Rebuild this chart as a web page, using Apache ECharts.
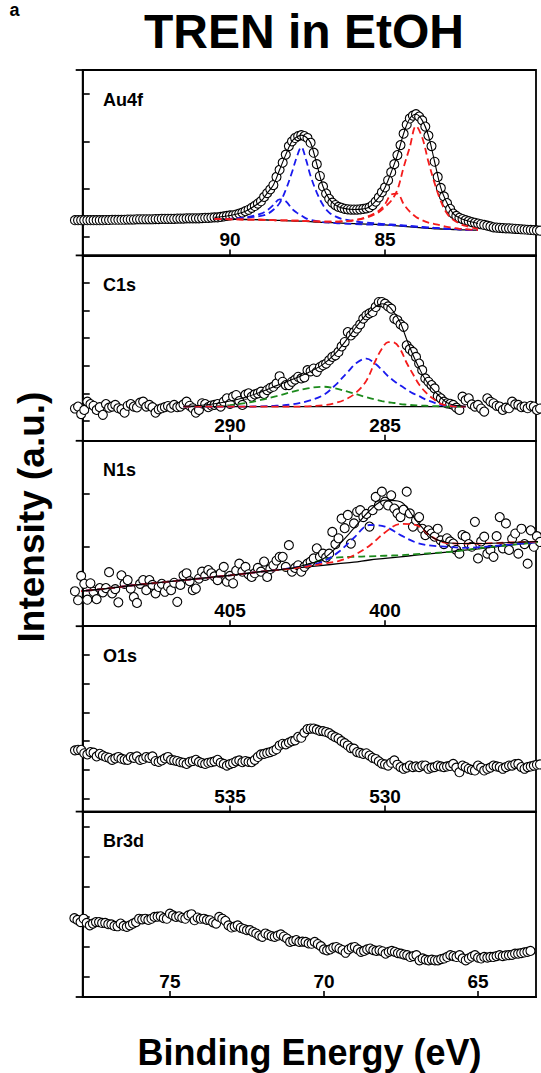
<!DOCTYPE html>
<html><head><meta charset="utf-8">
<script src="https://cdn.jsdelivr.net/npm/echarts@6/dist/echarts.min.js"></script>
<style>html,body{margin:0;padding:0;background:#fff}#c{width:541px;height:1073px}</style>
</head><body><div id="c"></div>
<script>
// ---------- panel layout / axes ----------
const panelNames = ['Au4f','C1s','N1s','O1s','Br3d'];
const xMin = [80.13, 280.13, 395.13, 525.13, 63.12];
const xMax = [94.75, 294.75, 409.75, 539.75, 77.83];
const xTickValues = [[90,85],[290,285],[405,400],[535,530],[75,70,65]];
const yMin = [-0.4, -0.72, -0.5, -0.45, -0.66];
const yMax = [3.5, 6.0, 3.0, 6.0, 5.5];
const yTickValues = [[0,1,2,3],[0,1,2,3,4,5],[0,1,2],[0,1,2,3,4,5],[0,1,2,3,4,5]];

// ---------- measured scans (start energy, 0.1 eV step) ----------
const scanStart = [95.0, 295.0, 410.0, 540.0, 78.1];
const scanStep = 0.1;

const au4fY = [0.34,0.34,0.34,0.34,0.34,0.34,0.34,0.34,0.34,0.34,
0.345,0.345,0.35,0.35,0.35,0.35,0.35,0.355,0.355,0.355,
0.36,0.36,0.36,0.36,0.36,0.36,0.365,0.365,0.37,0.37,
0.37,0.37,0.37,0.375,0.375,0.375,0.38,0.38,0.38,0.38,
0.38,0.385,0.39,0.39,0.395,0.40,0.40,0.41,0.42,0.43,
0.44,0.445,0.46,0.48,0.50,0.53,0.56,0.60,0.64,0.69,
0.74,0.83,0.91,0.99,1.08,1.25,1.40,1.55,1.72,1.90,
2.00,2.07,2.11,2.13,2.11,2.07,1.97,1.76,1.52,1.27,
1.05,0.90,0.79,0.71,0.66,0.62,0.60,0.58,0.57,0.565,
0.565,0.565,0.57,0.58,0.59,0.61,0.66,0.73,0.82,0.93,
1.03,1.18,1.35,1.52,1.71,1.92,2.16,2.35,2.48,2.54,
2.57,2.52,2.44,2.31,2.12,1.90,1.57,1.25,1.02,0.84,
0.70,0.58,0.48,0.43,0.39,0.365,0.34,0.32,0.30,0.285,
0.27,0.255,0.24,0.225,0.21,0.19,0.185,0.18,0.175,0.17,
0.17,0.165,0.16,0.155,0.15,0.145,0.14,0.135,0.13,0.125,
0.12];

const c1sY = [0.45,0.52,0.25,0.40,0.70,0.61,0.55,0.40,0.50,0.22,
0.61,0.48,0.52,0.58,0.46,0.42,0.30,0.55,0.61,0.52,
0.49,0.66,0.70,0.52,0.58,0.50,0.30,0.42,0.46,0.50,
0.54,0.48,0.58,0.50,0.52,0.60,0.70,0.55,0.46,0.30,
0.40,0.64,0.61,0.50,0.56,0.58,0.61,0.52,0.70,0.82,
0.62,0.88,0.94,0.72,0.58,0.95,1.00,0.88,0.96,1.00,
1.06,0.98,1.12,1.20,1.24,1.36,1.62,1.42,1.30,1.30,
1.42,1.50,1.60,1.54,1.58,1.84,1.80,1.90,1.78,1.95,
2.02,2.08,2.20,2.32,2.38,2.50,2.70,2.86,3.22,3.10,
3.22,3.35,3.50,3.71,3.83,3.90,3.95,4.13,4.31,4.31,
4.25,4.15,4.07,3.71,3.65,3.50,3.41,2.74,2.60,2.50,
2.32,2.08,1.84,1.54,1.42,1.30,1.18,0.90,0.82,0.70,
0.64,0.62,0.58,0.48,0.40,0.88,0.75,0.82,0.60,0.52,
0.58,0.45,0.34,0.82,0.70,0.64,0.55,0.52,0.40,0.48,
0.46,0.70,0.60,0.58,0.50,0.52,0.46,0.55,0.52,0.40,
0.45];

const n1sY = [0.16,-0.01,0.45,0.30,0.00,0.31,0.15,0.01,0.22,0.14,
0.22,0.52,0.12,0.20,-0.05,0.46,0.30,0.37,0.21,0.05,
-0.06,0.30,0.37,0.18,0.37,0.28,0.12,0.24,0.30,0.15,
0.25,0.18,0.32,-0.04,0.28,0.46,0.50,0.35,0.18,0.21,
0.40,0.53,0.45,0.56,0.50,0.44,0.37,0.50,0.62,0.34,
0.45,0.31,0.55,0.68,0.53,0.62,0.48,0.43,0.50,0.60,
0.53,0.72,0.43,0.58,0.65,0.74,0.81,0.81,0.62,1.03,
0.53,0.60,0.65,0.53,0.62,0.68,0.72,0.78,0.97,0.81,
0.87,0.80,0.87,1.28,1.05,1.16,1.53,1.35,1.60,1.06,
1.44,1.66,1.69,1.56,1.62,1.38,1.69,1.94,1.78,2.04,
1.85,1.78,1.97,1.72,1.63,1.56,1.70,2.04,1.63,1.38,
1.50,1.56,1.34,1.22,1.31,1.25,1.19,1.34,1.12,1.05,
1.16,1.10,1.06,0.94,0.87,1.22,1.19,1.05,1.00,1.47,
0.78,1.10,1.19,0.87,0.94,0.81,1.20,1.56,0.97,1.44,
0.94,1.15,1.25,0.87,1.34,1.05,0.68,1.31,1.00,1.20,
1.09];

const o1sY = [1.68,1.70,1.70,1.58,1.54,1.62,1.60,1.47,1.56,1.50,
1.45,1.42,1.35,1.40,1.45,1.39,1.36,1.35,1.45,1.42,
1.47,1.35,1.38,1.45,1.42,1.47,1.31,1.28,1.33,1.40,
1.45,1.35,1.33,1.31,1.27,1.25,1.21,1.28,1.31,1.35,
1.28,1.24,1.21,1.25,1.27,1.30,1.35,1.25,1.21,1.15,
1.20,1.24,1.30,1.33,1.27,1.31,1.28,1.27,1.35,1.45,
1.54,1.56,1.59,1.62,1.66,1.72,1.85,1.91,1.89,1.95,
2.00,2.03,2.15,2.12,2.30,2.42,2.44,2.44,2.40,2.36,
2.35,2.32,2.28,2.20,2.14,2.09,2.00,1.93,1.85,1.76,
1.74,1.62,1.59,1.56,1.58,1.50,1.42,1.38,1.30,1.22,
1.19,1.15,1.25,1.33,1.18,1.10,1.04,1.08,1.15,1.10,
1.12,1.10,1.15,1.15,1.04,1.08,1.10,1.15,1.12,1.10,
1.12,1.14,1.21,1.08,0.92,1.15,1.10,1.04,1.00,0.98,
1.15,1.08,0.98,1.04,1.08,1.15,1.12,1.10,1.04,1.10,
1.15,1.15,1.20,1.21,1.10,1.04,1.10,1.12,1.15,1.18,
1.19];

const br3dY = [1.96,1.90,1.83,1.94,1.80,1.72,1.78,1.83,1.83,1.80,
1.80,1.76,1.75,1.70,1.69,1.78,1.70,1.67,1.72,1.78,
1.83,1.94,1.92,1.94,1.90,1.94,2.00,2.01,2.02,1.96,
1.94,2.11,2.05,2.00,2.02,1.97,1.94,2.05,2.09,1.89,
1.98,1.94,1.94,1.90,1.89,1.82,1.78,2.00,1.94,1.87,
1.72,1.65,1.68,1.72,1.64,1.60,1.56,1.56,1.50,1.45,
1.38,1.34,1.45,1.40,1.36,1.34,1.38,1.42,1.35,1.28,
1.17,1.20,1.23,1.17,1.18,1.17,1.12,1.11,1.17,1.10,
1.03,0.92,0.89,0.92,0.98,1.00,0.95,0.90,0.81,0.92,
0.98,1.00,0.92,0.84,0.87,0.92,0.95,0.90,0.87,0.89,
0.86,0.78,0.84,0.87,0.84,0.80,0.78,0.75,0.73,0.67,
0.70,0.73,0.56,0.62,0.58,0.56,0.58,0.56,0.56,0.60,
0.62,0.67,0.73,0.70,0.67,0.73,0.62,0.56,0.62,0.68,
0.73,0.65,0.62,0.67,0.65,0.67,0.67,0.70,0.73,0.70,
0.72,0.73,0.74,0.78,0.78,0.80,0.82,0.84,0.87];

// ---------- fitted curves ----------
const au4fFitE = [90.5,90.0,89.5,89.0,88.8,88.6,88.4,88.2,88.0,87.85,87.7,87.55,87.4,87.2,87.0,86.8,86.6,86.4,86.0,85.6,85.2,85.0,84.8,84.6,84.4,84.2,84.0,83.8,83.6,83.4,83.2,83.0,82.8,82.6,82.4,82.0];
const au4fBg = [0.37,0.36,0.355,0.35,0.345,0.34,0.335,0.33,0.325,0.322,0.32,0.317,0.31,0.30,0.295,0.29,0.285,0.28,0.27,0.26,0.25,0.24,0.23,0.22,0.21,0.20,0.19,0.18,0.17,0.16,0.155,0.15,0.145,0.14,0.135,0.13];
const au4fBlue1 = [0.37,0.37,0.39,0.43,0.47,0.56,0.70,0.98,1.35,1.66,1.88,1.62,1.27,0.92,0.66,0.50,0.42,0.37,0.32,0.29,0.27,0.26,0.25,0.24,0.23,0.22,0.21,0.20,0.19,0.18,0.17,0.165,0.16,0.15,0.14,0.13];
const au4fBlue2 = [0.37,0.37,0.40,0.48,0.55,0.66,0.78,0.74,0.58,0.50,0.44,0.38,0.35,0.32,0.30,0.29,0.28,0.27,0.26,0.25,0.245,0.24,0.235,0.23,0.22,0.21,0.20,0.19,0.18,0.175,0.17,0.16,0.155,0.15,0.14,0.13];
const au4fRed1 = [0.37,0.36,0.355,0.35,0.345,0.34,0.335,0.335,0.33,0.33,0.325,0.32,0.32,0.315,0.31,0.31,0.31,0.315,0.34,0.39,0.51,0.62,0.75,0.98,1.45,1.88,2.32,2.08,1.57,1.12,0.74,0.48,0.35,0.27,0.22,0.16];
const au4fRed2 = [0.37,0.36,0.355,0.35,0.345,0.34,0.335,0.335,0.33,0.33,0.325,0.32,0.32,0.315,0.31,0.31,0.31,0.315,0.34,0.41,0.54,0.68,0.88,0.90,0.68,0.52,0.41,0.34,0.29,0.26,0.23,0.20,0.18,0.16,0.15,0.13];
const au4fEnv = [0.40,0.44,0.53,0.74,0.91,1.08,1.40,1.72,2.00,2.09,2.13,2.09,1.97,1.52,1.05,0.79,0.66,0.60,0.565,0.59,0.82,1.03,1.35,1.71,2.16,2.48,2.57,2.44,2.12,1.57,1.02,0.70,0.48,0.39,0.34,0.27];

const c1sFitE = [291.5,291.0,290.5,290.0,289.5,289.0,288.5,288.0,287.5,287.0,286.6,286.2,285.9,285.6,285.3,285.1,284.9,284.7,284.5,284.3,284.1,283.9,283.7,283.5,283.2,283.0,282.7,282.4];
const c1sBg = [0.52,0.52,0.52,0.52,0.52,0.52,0.52,0.52,0.52,0.52,0.52,0.52,0.52,0.52,0.52,0.52,0.52,0.52,0.52,0.52,0.52,0.52,0.52,0.52,0.52,0.52,0.52,0.52];
const c1sGreen = [0.52,0.52,0.53,0.57,0.65,0.76,0.90,1.05,1.18,1.24,1.18,1.06,0.96,0.86,0.77,0.72,0.68,0.65,0.61,0.59,0.57,0.56,0.55,0.54,0.53,0.52,0.52,0.52];
const c1sBlue = [0.52,0.52,0.52,0.52,0.52,0.53,0.55,0.60,0.72,0.93,1.30,1.78,2.12,2.26,2.06,1.85,1.62,1.44,1.28,1.14,1.00,0.90,0.78,0.70,0.58,0.55,0.53,0.52];
const c1sRed = [0.52,0.52,0.52,0.52,0.52,0.52,0.52,0.52,0.53,0.57,0.65,0.82,1.06,1.46,2.20,2.62,2.86,2.84,2.58,2.10,1.70,1.32,1.05,0.85,0.62,0.56,0.52,0.52];
const c1sEnv = [0.53,0.56,0.62,0.72,0.86,1.05,1.28,1.50,1.74,2.05,2.45,3.00,3.45,3.85,4.15,4.25,4.18,3.92,3.55,2.95,2.40,1.92,1.50,1.20,0.85,0.66,0.56,0.53];

const n1sFitE = [410,409,408,407,406,405,404,403.5,403,402.5,402,401.5,401,400.5,400,399.5,399,398.5,398,397.5,397,396,395];
const n1sBg = [0.15,0.21,0.28,0.34,0.40,0.46,0.53,0.56,0.59,0.62,0.65,0.68,0.71,0.75,0.78,0.81,0.84,0.87,0.90,0.93,0.96,1.03,1.09];
const n1sGreen = [0.15,0.21,0.28,0.34,0.40,0.46,0.53,0.56,0.59,0.66,0.76,0.80,0.81,0.82,0.83,0.84,0.86,0.88,0.90,0.93,0.97,1.03,1.09];
const n1sBlue = [0.15,0.21,0.28,0.34,0.40,0.46,0.53,0.56,0.60,0.64,0.72,0.90,1.17,1.41,1.38,1.22,1.08,1.02,1.00,0.98,0.99,1.04,1.09];
const n1sRed = [0.15,0.21,0.28,0.34,0.40,0.46,0.53,0.56,0.59,0.63,0.68,0.73,0.84,1.02,1.27,1.43,1.41,1.19,1.07,1.06,1.06,1.08,1.10];
const n1sEnv = [0.15,0.21,0.28,0.34,0.40,0.46,0.53,0.56,0.60,0.67,0.77,1.03,1.35,1.68,1.88,1.85,1.50,1.19,1.08,1.06,1.06,1.08,1.10];

// ---------- build ----------
const FONT = '"Liberation Sans", Arial, Helvetica, sans-serif';
const RED = '#f41c1c', BLUE = '#1a1aee', GREEN = '#1c8a1c';
const panelTops = [70, 255.4, 440.8, 626.2, 811.6];
const panelH = 185.4;
const gridLeft = 82.7;

function scan(start, ys){ return ys.map((y,i)=>[Math.round((start - i*scanStep)*100)/100, y]); }
function pairs(xs, ys){ return ys.map((y,i)=>[xs[i], y]); }

const grids = [], xAxes = [], yAxes = [], series = [];
for (let g = 0; g < 5; g++) {
  grids.push({left: gridLeft, right: 5, top: panelTops[g], height: panelH, show: true,
    borderColor: '#000', borderWidth: 1.8, backgroundColor: 'transparent', containLabel: false});
  xAxes.push({gridIndex: g, type: 'value', inverse: true, min: xMin[g], max: xMax[g],
    axisLine: {show: true, onZero: false, lineStyle: {color: '#000', width: 1.8}},
    axisTick: {show: true, inside: true, length: 6, customValues: xTickValues[g], lineStyle: {color: '#000', width: 1.6}},
    axisLabel: {show: true, inside: true, margin: 6, customValues: xTickValues[g], color: '#000',
      fontSize: 19, fontWeight: 'bold', fontFamily: FONT},
    splitLine: {show: false}});
  yAxes.push({gridIndex: g, type: 'value', min: yMin[g], max: yMax[g],
    axisLine: {show: true, onZero: false, lineStyle: {color: '#000', width: 1.8}},
    axisTick: {show: true, inside: true, length: 7, customValues: yTickValues[g], lineStyle: {color: '#000', width: 1.6}},
    axisLabel: {show: false}, splitLine: {show: false}});
}
function addScatter(g, data){
  series.push({type: 'scatter', xAxisIndex: g, yAxisIndex: g, data, symbol: 'circle', symbolSize: 9,
    clip: false, z: 2, silent: true,
    itemStyle: {color: '#fff', borderColor: '#000', borderWidth: 1.1, opacity: 1}});
}
function addLine(g, data, color, dashed, width){
  series.push({type: 'line', xAxisIndex: g, yAxisIndex: g, data, showSymbol: false, symbol: 'none',
    smooth: 0.35, z: 3, silent: true,
    lineStyle: {color, width, type: dashed ? [7, 4] : 'solid'}});
}
const scans = [au4fY, c1sY, n1sY, o1sY, br3dY];
scans.forEach((ys, g) => addScatter(g, scan(scanStart[g], ys)));

addLine(0, pairs(au4fFitE, au4fBg), '#000', false, 1.3);
addLine(0, pairs(au4fFitE, au4fBlue2), BLUE, true, 1.8);
addLine(0, pairs(au4fFitE, au4fBlue1), BLUE, true, 1.8);
addLine(0, pairs(au4fFitE, au4fRed2), RED, true, 1.8);
addLine(0, pairs(au4fFitE, au4fRed1), RED, true, 1.8);
addLine(0, pairs(au4fFitE, au4fEnv), '#000', false, 1.1);

addLine(1, pairs(c1sFitE, c1sBg), '#000', false, 1.3);
addLine(1, pairs(c1sFitE, c1sGreen), GREEN, true, 1.8);
addLine(1, pairs(c1sFitE, c1sBlue), BLUE, true, 1.8);
addLine(1, pairs(c1sFitE, c1sRed), RED, true, 1.8);
addLine(1, pairs(c1sFitE, c1sEnv), '#000', false, 1.1);

addLine(2, pairs(n1sFitE, n1sBg), '#000', false, 1.3);
addLine(2, pairs(n1sFitE, n1sGreen), GREEN, true, 1.8);
addLine(2, pairs(n1sFitE, n1sBlue), BLUE, true, 1.8);
addLine(2, pairs(n1sFitE, n1sRed), RED, true, 1.8);
addLine(2, pairs(n1sFitE, n1sEnv), '#000', false, 1.1);

const txt = (text, x, y, size, extra) => Object.assign({type: 'text', x, y, silent: true, z: 10,
  style: {text, fill: '#000', fontSize: size, fontWeight: 'bold', fontFamily: FONT,
    align: 'center', verticalAlign: 'middle', textAlign: 'center', textVerticalAlign: 'middle'}}, extra || {});
const graphics = [
  txt('a', 14.5, 10, 18),
  txt('TREN in EtOH', 304, 31, 48),
  txt('Binding Energy (eV)', 309.5, 1052.5, 36),
  txt('Intensity (a.u.)', 31, 517, 37, {rotation: Math.PI / 2})
];
panelNames.forEach((name, g) => {
  const t = txt(name, 103, panelTops[g] + 29.5, 18);
  t.style.align = 'left'; t.style.textAlign = 'left';
  graphics.push(t);
});
// short outward extensions of the panel separators at the left edge
panelTops.concat([panelTops[4] + panelH]).forEach(yy => {
  graphics.push({type: 'line', silent: true, z: 5,
    shape: {x1: gridLeft - 7, y1: yy, x2: gridLeft, y2: yy},
    style: {stroke: '#000', lineWidth: 1.8}});
});

const chart = echarts.init(document.getElementById('c'), null, {renderer: 'svg'});
chart.setOption({
  animation: false,
  backgroundColor: '#fff',
  grid: grids, xAxis: xAxes, yAxis: yAxes, series,
  graphic: {elements: graphics}
});
</script></body></html>
